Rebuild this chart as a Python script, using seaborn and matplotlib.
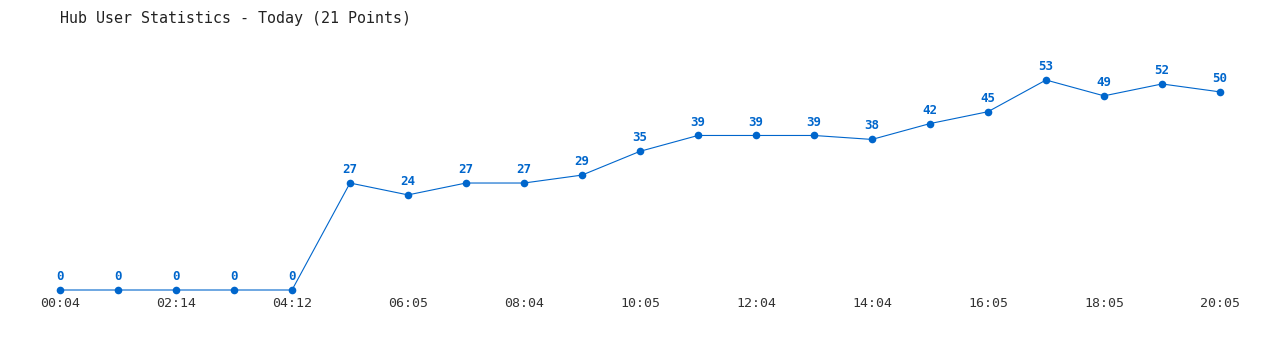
import matplotlib
matplotlib.use("Agg")
import matplotlib.pyplot as plt
import seaborn as sns
import pandas as pd

times = ["00:04", "", "02:14", "", "04:12", "", "06:05", "", "08:04", "",
         "10:05", "", "12:04", "", "14:04", "", "16:05", "", "18:05", "", "20:05"]
users = [0, 0, 0, 0, 0, 27, 24, 27, 27, 29, 35, 39, 39, 39, 38, 42, 45, 53, 49, 52, 50]

sns.set_theme(style="white")
plt.rcParams['font.family'] = ['DejaVu Sans Mono']

df = pd.DataFrame({"idx": range(len(users)), "users": users})

fig = plt.figure(figsize=(12.8, 3.5), dpi=100)
ax = fig.add_axes([60/1280, 1 - 290/350, 1160/1280, 210/350])
color = "#0066cc"
sns.lineplot(data=df, x="idx", y="users", ax=ax, color=color, linewidth=0.8,
             marker="o", markersize=5.5, markeredgewidth=0, clip_on=False)
for l in ax.lines:
    l.set_clip_on(False)
for i, v in enumerate(users):
    ax.annotate(str(v), (i, v), xytext=(0, 5), textcoords="offset points",
                ha="center", va="bottom", fontsize=9, fontweight="bold", color=color)

ax.set_xlim(0, len(users) - 1)
ax.set_ylim(0, max(users))
ax.set_xticks(range(len(users)))
ax.set_xticklabels(times, fontsize=9.5, color="#333333")
ax.tick_params(axis="x", length=0, pad=5)
ax.set_yticks([])
ax.set_xlabel("")
ax.set_ylabel("")
for s in ax.spines.values():
    s.set_visible(False)
ax.patch.set_alpha(0)

fig.text(60/1280, 1 - 18/350, "Hub User Statistics - Today (21 Points)",
         fontsize=10.8, color="#222222", ha="left", va="center")

fig.savefig("out.png", dpi=100, facecolor="white")
